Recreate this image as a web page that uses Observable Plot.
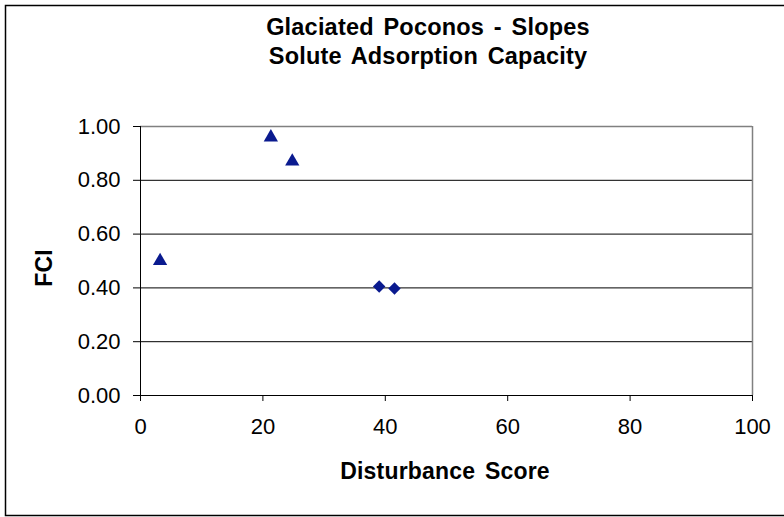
<!DOCTYPE html>
<html>
<head>
<meta charset="utf-8">
<script src="https://cdn.jsdelivr.net/npm/d3@7"></script>
<script src="https://cdn.jsdelivr.net/npm/@observablehq/plot@0.6"></script>
<style>
  html, body { margin: 0; padding: 0; background: #fff; }
  svg { display: block; }
</style>
</head>
<body>
<div id="chart"></div>
<script>
const titleLines = ["Glaciated Poconos - Slopes", "Solute Adsorption Capacity"];
const xLabel = "Disturbance Score";
const yLabel = "FCI";
const xTicks = [0, 20, 40, 60, 80, 100];
const yTicks = [0, 0.2, 0.4, 0.6, 0.8, 1.0];

// Triangle series
const triX = [3.2, 21.3, 24.8];
const triY = [0.50, 0.96, 0.87];
// Diamond series
const diaX = [39.0, 41.5];
const diaY = [0.405, 0.398];

const tri = triX.map((x, i) => ({x, y: triY[i]}));
const dia = diaX.map((x, i) => ({x, y: diaY[i]}));

const W = 784, H = 517;
const mL = 140, mR = 32, mT = 126, mB = 122;
const navy = "#0a1a8f";

const plot = Plot.plot({
  width: W, height: H,
  marginLeft: mL, marginRight: mR, marginTop: mT, marginBottom: mB,
  style: {fontFamily: "'Liberation Sans', Arial, sans-serif", fontSize: "22px", color: "#000", background: "#fff"},
  x: {domain: [0, 100], ticks: xTicks, tickFormat: d => String(d), label: null},
  y: {domain: [0, 1], ticks: yTicks, tickFormat: d => d.toFixed(2), label: null},
  marks: [
    Plot.ruleY(yTicks.slice(1, 5), {stroke: "#000", strokeWidth: 1}),
    Plot.ruleY([1], {stroke: "#808080", strokeWidth: 1.5}),
    Plot.ruleX([100], {stroke: "#808080", strokeWidth: 1.5}),
    Plot.axisX({ticks: xTicks, tickFormat: d => String(d), tickSize: 6, tickPadding: 17, fontSize: 22, label: null}),
    Plot.axisY({ticks: yTicks, tickFormat: d => d.toFixed(2), tickSize: 7, tickPadding: 13, fontSize: 22, label: null}),
    Plot.ruleX([0], {stroke: "#000", strokeWidth: 1}),
    Plot.ruleY([0], {stroke: "#000", strokeWidth: 1}),
    Plot.dot(tri, {x: "x", y: "y", symbol: "triangle", r: 5.3, fill: navy, stroke: "none"}),
    Plot.dot(dia, {x: "x", y: "y", symbol: "diamond2", r: 5.6, fill: navy, stroke: "none"})
  ]
});

const svg = d3.select(plot);
// outer border
svg.insert("rect", ":first-child")
  .attr("x", 5.5).attr("y", 5.5).attr("width", W + 10).attr("height", 510)
  .attr("fill", "none").attr("stroke", "#000").attr("stroke-width", 1.5);

const font = "'Liberation Sans', Arial, sans-serif";
const tg = svg.append("g").attr("font-family", font).attr("font-weight", "bold").attr("fill", "#000")
  .attr("word-spacing", "3px").attr("letter-spacing", "0.2px");
tg.append("text").attr("x", 428).attr("y", 35).attr("text-anchor", "middle").attr("font-size", 23.5).text(titleLines[0]);
tg.append("text").attr("x", 428).attr("y", 64).attr("text-anchor", "middle").attr("font-size", 23.5).text(titleLines[1]);
tg.append("text").attr("x", 445).attr("y", 479).attr("text-anchor", "middle").attr("font-size", 23).text(xLabel);
tg.append("text").attr("transform", "translate(52,268) rotate(-90)").attr("text-anchor", "middle").attr("font-size", 23).text(yLabel);

document.getElementById("chart").appendChild(plot);
</script>
</body>
</html>
